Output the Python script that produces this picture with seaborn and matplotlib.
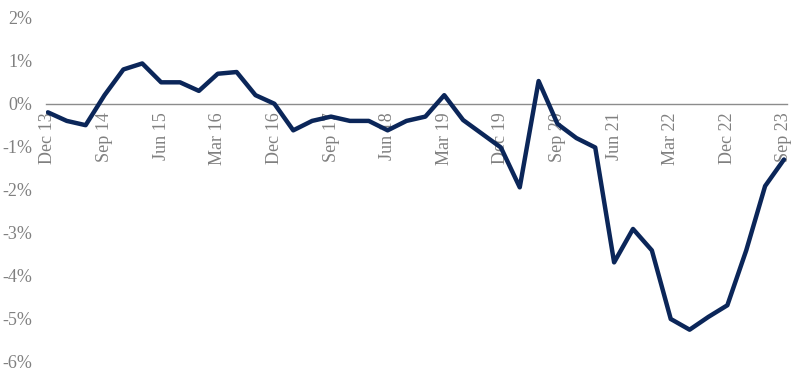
import matplotlib
matplotlib.use("Agg")
import matplotlib.pyplot as plt
import seaborn as sns
import pandas as pd
from matplotlib.ticker import FuncFormatter

quarters = [
    "Dec 13", "Mar 14", "Jun 14", "Sep 14", "Dec 14", "Mar 15", "Jun 15", "Sep 15",
    "Dec 15", "Mar 16", "Jun 16", "Sep 16", "Dec 16", "Mar 17", "Jun 17", "Sep 17",
    "Dec 17", "Mar 18", "Jun 18", "Sep 18", "Dec 18", "Mar 19", "Jun 19", "Sep 19",
    "Dec 19", "Mar 20", "Jun 20", "Sep 20", "Dec 20", "Mar 21", "Jun 21", "Sep 21",
    "Dec 21", "Mar 22", "Jun 22", "Sep 22", "Dec 22", "Mar 23", "Jun 23", "Sep 23",
]
values = [
    -0.2, -0.4, -0.5, 0.2, 0.8, 0.94, 0.5, 0.5,
    0.3, 0.7, 0.74, 0.2, 0.0, -0.62, -0.4, -0.3,
    -0.4, -0.4, -0.62, -0.4, -0.3, 0.2, -0.38, -0.7,
    -1.02, -1.95, 0.53, -0.47, -0.8, -1.02, -3.7, -2.92,
    -3.42, -5.02, -5.27, -4.97, -4.7, -3.42, -1.92, -1.3,
]
y_ticks = [2, 1, 0, -1, -2, -3, -4, -5, -6]

df = pd.DataFrame({"pos": range(len(quarters)), "value": values})

sns.set_style("white")
plt.rcParams["font.family"] = ["Liberation Serif", "DejaVu Serif"]

fig = plt.figure(figsize=(8.0, 3.74), dpi=100)
ax = fig.add_axes([46 / 800, 13 / 374, (787 - 46) / 800, (361 - 18) / 374])

sns.lineplot(data=df, x="pos", y="value", ax=ax, color="#0b2659", linewidth=3.2)

for s in ["top", "right", "left"]:
    ax.spines[s].set_visible(False)
ax.spines["bottom"].set_position(("data", 0))
ax.spines["bottom"].set_color("#8c8c8c")
ax.spines["bottom"].set_linewidth(1.0)
ax.spines["bottom"].set_zorder(1)

ax.set_xlim(-0.1, 39.16)
ax.set_ylim(-6, 2)
ax.set_yticks(y_ticks)
ax.yaxis.set_major_formatter(FuncFormatter(lambda v, p: f"{int(round(v))}%"))

tick_pos = list(range(0, len(quarters), 3))
ax.set_xticks(tick_pos)
ax.set_xticklabels([quarters[i] for i in tick_pos])

ax.tick_params(axis="x", length=0, pad=6, labelsize=13, labelcolor="#808080",
               labelrotation=90)
ax.tick_params(axis="y", length=0, pad=10, labelsize=13, labelcolor="#808080")
for lbl in ax.get_xticklabels():
    lbl.set_va("top")
    lbl.set_ha("center")
ax.set_xlabel("")
ax.set_ylabel("")
ax.grid(False)

fig.savefig("out.png", dpi=100)
